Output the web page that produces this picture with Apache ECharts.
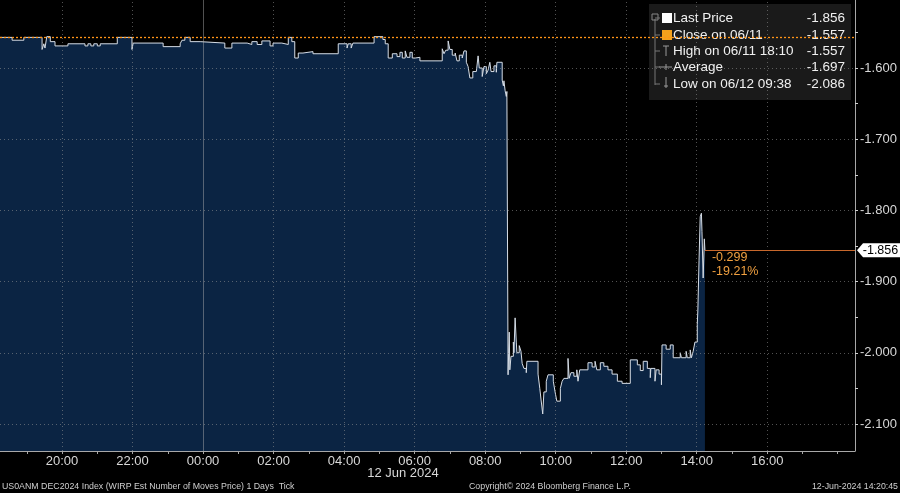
<!DOCTYPE html>
<html>
<head>
<meta charset="utf-8">
<script src="https://cdn.jsdelivr.net/npm/echarts@6/dist/echarts.min.js"></script>
<style>
html,body{margin:0;padding:0;background:#000;}
#c{width:900px;height:493px;}
</style>
</head>
<body>
<div id="c"></div>
<script>
// ---- data ----
const times = ["18:14","18:35","18:55","19:26","19:29","19:31","19:34","19:40","19:48","20:10",
"20:39","20:44","20:49","20:54","21:00","21:05","21:34","21:59","22:01","22:52",
"23:21","23:24","23:29","23:38","23:55","00:37","00:49","01:15","01:23","01:32",
"01:40","01:54","01:59","02:14","02:25","02:31","02:36","02:42","02:50","03:07",
"03:50","04:05","04:07","04:12","04:15","04:51","05:06","05:10","05:15","05:22",
"05:30","05:35","05:39","05:44","05:47","05:52","05:56","06:01","06:09","06:47",
"06:50","06:53","06:57","07:00","07:04","07:09","07:12","07:16","07:21","07:24",
"07:28","07:31","07:34","07:39","07:45","07:48","07:50","07:55","07:58","08:02",
"08:05","08:08","08:10","08:15","08:19","08:20","08:29","08:31","08:32","08:34",
"08:36","08:37","08:39","08:41","08:42","08:44","08:48","08:49","08:51","08:53",
"08:54","08:58","09:01","09:03","09:06","09:10","09:11","09:30","09:33","09:35",
"09:38","09:40","09:44","09:47","09:56","09:59","10:02","10:08","10:11","10:14",
"10:21","10:23","10:26","10:31","10:36","10:38","10:41","10:55","11:02","11:07",
"11:10","11:16","11:22","11:29","11:36","11:45","11:53","12:07","12:19","12:24",
"12:29","12:36","12:41","12:42","12:49","12:51","12:56","13:00","13:01","13:08",
"13:15","13:20","13:32","13:34","13:42","13:44","13:49","13:51","13:54","13:57",
"14:01","14:02","14:04","14:06","14:08","14:09","14:11","14:13","14:14"];
const values = [-1.557,-1.561,-1.557,-1.574,-1.566,-1.572,-1.556,-1.563,-1.569,-1.566,
-1.569,-1.566,-1.569,-1.566,-1.569,-1.566,-1.557,-1.574,-1.565,-1.570,
-1.566,-1.561,-1.557,-1.563,-1.565,-1.572,-1.565,-1.567,-1.563,-1.567,
-1.562,-1.569,-1.565,-1.567,-1.557,-1.563,-1.586,-1.579,-1.577,-1.580,
-1.566,-1.572,-1.566,-1.572,-1.565,-1.556,-1.560,-1.566,-1.586,-1.580,
-1.584,-1.578,-1.586,-1.576,-1.585,-1.578,-1.586,-1.585,-1.590,-1.573,
-1.580,-1.575,-1.562,-1.574,-1.582,-1.579,-1.590,-1.582,-1.586,-1.576,
-1.592,-1.598,-1.614,-1.605,-1.603,-1.583,-1.600,-1.612,-1.598,-1.608,
-1.603,-1.592,-1.605,-1.597,-1.606,-1.592,-1.617,-1.625,-1.618,-1.632,
-1.640,-1.633,-2.031,-1.971,-2.024,-2.005,-1.985,-2.000,-1.951,-1.985,
-2.000,-1.990,-1.998,-2.015,-2.022,-2.028,-2.012,-2.030,-2.050,-2.065,
-2.086,-2.055,-2.040,-2.031,-2.040,-2.055,-2.068,-2.050,-2.040,-2.036,
-2.008,-2.036,-2.028,-2.033,-2.024,-2.040,-2.024,-2.014,-2.020,-2.012,
-2.024,-2.014,-2.019,-2.024,-2.030,-2.040,-2.043,-2.010,-2.017,-2.025,
-2.012,-2.022,-2.035,-2.022,-2.040,-2.024,-2.030,-2.045,-1.989,-1.995,
-1.989,-2.007,-2.000,-2.007,-1.998,-2.007,-1.996,-2.007,-1.998,-1.985,
-1.960,-1.940,-1.870,-1.809,-1.804,-1.830,-1.895,-1.840,-1.856];
const closePrev = -1.557;
const changeText = "-0.299";
const pctText = "-19.21%";
const xLabelHours = [20,22,24,26,28,30,32,34,36,38,40];
const yLabelValues = [-2.1,-2.0,-1.9,-1.8,-1.7,-1.6];
const legendRows = [
  ["Last Price","-1.856"],
  ["Close on 06/11","-1.557"],
  ["High on 06/11 18:10","-1.557"],
  ["Average","-1.697"],
  ["Low on 06/12 09:38","-2.086"]
];
const title = "US0ANM DEC2024 Index (WIRP Est Number of Moves Price) 1 Days  Tick";
const copyright = "Copyright\u00A9 2024 Bloomberg Finance L.P.";
const stamp = "12-Jun-2024 14:20:45";
const dateLabel = "12 Jun 2024";

// ---- build ----
function toHours(s){const p=s.split(':').map(Number);let t=p[0]+p[1]/60;if(p[0]<18)t+=24;return t;}
const series = times.map((t,i)=>[toHours(t),values[i]]);
const last = series[series.length-1];
const X_MIN = 18.24, X_MAX = 42.49, Y_MIN = -2.138, Y_MAX = -1.5045;
const hourTicks=[]; for(let h=19;h<=42;h++) hourTicks.push(h);
const yTicks=[]; for(let v=-2.10;v<=-1.549;v+=0.05) yTicks.push(+v.toFixed(2));
const FONT = "Liberation Sans";
const gridDot = {color:'rgba(150,150,150,0.55)',type:[1,3],width:1};

const chart = echarts.init(document.getElementById('c'));
const legendChildren = [
  {type:'rect',shape:{x:649,y:4,width:202,height:96},style:{fill:'rgba(30,30,30,0.85)'}},
  {type:'line',shape:{x1:655,y1:19,x2:655,y2:85},style:{stroke:'#777',lineWidth:1}},
  {type:'rect',shape:{x:652,y:14,width:6,height:6},style:{fill:'none',stroke:'#888',lineWidth:1}},
  {type:'rect',shape:{x:662,y:13,width:10,height:10},style:{fill:'#ffffff'}},
  {type:'rect',shape:{x:662,y:30,width:10,height:10},style:{fill:'#f4a11c'}},
  {type:'line',shape:{x1:666,y1:46,x2:666,y2:56},style:{stroke:'#999',lineWidth:1}},
  {type:'line',shape:{x1:663,y1:46,x2:669,y2:46},style:{stroke:'#999',lineWidth:1}},
  {type:'line',shape:{x1:659,y1:67,x2:672,y2:67},style:{stroke:'#999',lineWidth:1}},
  {type:'line',shape:{x1:666,y1:64,x2:666,y2:70},style:{stroke:'#999',lineWidth:1}},
  {type:'line',shape:{x1:666,y1:77,x2:666,y2:88},style:{stroke:'#999',lineWidth:1}},
  {type:'line',shape:{x1:664,y1:86,x2:668,y2:86},style:{stroke:'#999',lineWidth:1}}
];
const rowY=[18,35,51,67,84];
legendRows.forEach((r,i)=>{
  legendChildren.push({type:'line',shape:{x1:655,y1:rowY[i],x2:660,y2:rowY[i]},style:{stroke:'#777',lineWidth:1}});
  legendChildren.push({type:'text',x:673,y:rowY[i],style:{text:r[0],fill:'#f0f0f0',font:'13.5px '+FONT,verticalAlign:'middle',textAlign:'left'}});
  legendChildren.push({type:'text',x:845,y:rowY[i],style:{text:r[1],fill:'#f0f0f0',font:'13.5px '+FONT,verticalAlign:'middle',textAlign:'right'}});
});

chart.setOption({
  backgroundColor:'#000',
  animation:false,
  grid:{left:0,right:45,top:0,bottom:42,containLabel:false},
  xAxis:{type:'value',min:X_MIN,max:X_MAX,
    axisLine:{show:true,lineStyle:{color:'#a8a8a8',width:1}},
    axisTick:{show:true,customValues:hourTicks,length:3,lineStyle:{color:'#a8a8a8'}},
    axisLabel:{customValues:xLabelHours,color:'#d8d8d8',fontFamily:FONT,fontSize:13,margin:4,
      formatter:v=>{const h=Math.round(v)%24;return (h<10?'0':'')+h+':00';}},
    splitLine:{show:false}},
  yAxis:{type:'value',position:'right',min:Y_MIN,max:Y_MAX,
    axisLine:{show:true,lineStyle:{color:'#a8a8a8',width:1}},
    axisTick:{show:true,customValues:yTicks,length:3,lineStyle:{color:'#d0d0d0'}},
    axisLabel:{customValues:yLabelValues,color:'#d8d8d8',fontFamily:FONT,fontSize:13,margin:5,
      formatter:v=>v.toFixed(3)},
    splitLine:{show:false}},
  series:[
    {type:'line',name:'Last Price',data:series,step:'end',showSymbol:false,z:2,
      lineStyle:{color:'#d6dde6',width:1},
      areaStyle:{color:'#0b2443',opacity:1,origin:'start'},
      markPoint:{symbol:'circle',symbolSize:0,silent:true,
        data:[{coord:last,label:{show:true,position:[7,1],
          formatter:changeText+'\n'+pctText,color:'#f0a040',fontFamily:FONT,fontSize:12.5,lineHeight:13.5,align:'left',verticalAlign:'top'}}]}
    },
    {type:'line',data:[],z:3,silent:true,
      markLine:{symbol:['none','none'],silent:true,animation:false,label:{show:false},
        data:[
          ...xLabelHours.map(h=>({xAxis:h,lineStyle:h===24?{color:'rgba(180,180,180,0.45)',type:'solid',width:1}:gridDot})),
          ...yLabelValues.map(v=>({yAxis:v,lineStyle:gridDot}))
        ]}
    },
    {type:'line',data:[],z:6,silent:true,color:'#ff9417',
      markLine:{symbol:['none','none'],silent:true,animation:false,label:{show:false},
        itemStyle:{color:'#ff9417'},
        lineStyle:{color:'#ff9417',type:[2,2],width:1.3,opacity:1},
        data:[[{coord:[X_MIN,closePrev]},{coord:[X_MAX,closePrev]}]]}
    },
    {type:'line',data:[],z:5,silent:true,color:'#c8682c',
      markLine:{symbol:['none','none'],silent:true,animation:false,label:{show:false},
        lineStyle:{color:'#c8682c',type:'solid',width:1,opacity:1},
        data:[[{coord:last},{coord:[X_MAX,last[1]]}]]},
      markPoint:{silent:true,animation:false,
        symbol:'path://M0,7 L6,0 L44,0 L44,14 L6,14 Z',symbolSize:[44,14],symbolOffset:[24,0],
        symbolKeepAspect:false,
        itemStyle:{color:'#ffffff'},
        data:[{coord:[X_MAX,last[1]],label:{show:true,position:'inside',offset:[1.5,0.5],
          formatter:last[1].toFixed(3),color:'#000',fontFamily:FONT,fontSize:12.5}}]}
    }
  ],
  graphic:[
    {id:'legend',type:'group',z:10,children:legendChildren},
    {id:'date',type:'text',x:403,y:473,style:{text:dateLabel,fill:'#d8d8d8',font:'13px '+FONT,textAlign:'center',verticalAlign:'middle'}},
    {id:'title',type:'text',x:2,y:487,style:{text:title,fill:'#cfcfcf',font:'8.8px '+FONT,textAlign:'left',verticalAlign:'middle'}},
    {id:'copy',type:'text',x:469,y:487,style:{text:copyright,fill:'#cfcfcf',font:'8.8px '+FONT,textAlign:'left',verticalAlign:'middle'}},
    {id:'stamp',type:'text',x:898,y:487,style:{text:stamp,fill:'#cfcfcf',font:'8.8px '+FONT,textAlign:'right',verticalAlign:'middle'}}
  ]
});
</script>
</body>
</html>
